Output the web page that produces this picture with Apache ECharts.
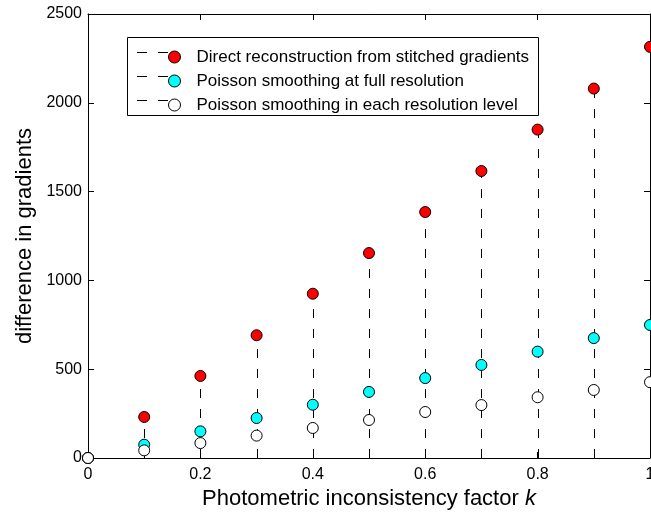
<!DOCTYPE html>
<html>
<head>
<meta charset="utf-8">
<script src="https://cdn.jsdelivr.net/npm/echarts@6/dist/echarts.min.js"></script>
<style>html,body{margin:0;padding:0;background:#fff}#c{width:651px;height:512px}</style>
</head>
<body>
<div id="c"></div>
<script>
const kValues = [0, 0.1, 0.2, 0.3, 0.4, 0.5, 0.6, 0.7, 0.8, 0.9, 1.0];
const directValues = [0, 231, 462, 691, 925, 1154, 1385, 1616, 1849, 2080, 2315];
const fullResValues = [0, 75, 150, 225, 300, 372, 450, 524, 599, 675, 749];
const levelValues = [0, 43, 84, 126, 169, 214, 259, 298, 342, 383, 427];
const seriesNames = [
  'Direct reconstruction from stitched gradients',
  'Poisson smoothing at full resolution',
  'Poisson smoothing in each resolution level'
];
const seriesColors = ['#ff0000', '#00ffff', '#ffffff'];
const xTicks = [0, 0.2, 0.4, 0.6, 0.8, 1];
const yTicks = [0, 500, 1000, 1500, 2000, 2500];

const FONT = '"Liberation Sans", Arial, Helvetica, sans-serif';
const chart = echarts.init(document.getElementById('c'), null, {renderer: 'canvas'});

function stemRender(color) {
  return function (params, api) {
    const x = api.value(0), y = api.value(1);
    const p0 = api.coord([x, 0]);
    const p1 = api.coord([x, y]);
    const px = Math.round(p0[0]) + 0.5;
    return {
      type: 'group',
      children: [
        {type: 'line', shape: {x1: px, y1: p0[1], x2: px, y2: p1[1]},
         style: {stroke: '#000', lineWidth: 1, lineDash: [9, 11]}},
        {type: 'circle', shape: {cx: p1[0], cy: p1[1], r: 5.5},
         style: {fill: color, stroke: '#000', lineWidth: 1}}
      ]
    };
  };
}

const seriesData = [directValues, fullResValues, levelValues];
const series = seriesData.map((vals, i) => ({
  name: seriesNames[i],
  type: 'custom',
  clip: false,
  itemStyle: {color: seriesColors[i], borderColor: '#000', borderWidth: 1},
  encode: {x: 0, y: 1},
  data: kValues.map((k, j) => [k, vals[j]]),
  renderItem: stemRender(seriesColors[i])
}));

const axisCommon = {
  axisLine: {show: true, onZero: false, lineStyle: {color: '#000', width: 1}},
  axisTick: {show: true, inside: true, length: 6, lineStyle: {color: '#000'}},
  splitLine: {show: false}
};

const legendRows = [52, 76, 100];
const graphics = [
  {type: 'rect', shape: {x: 127.5, y: 37.5, width: 411, height: 78},
   style: {fill: '#fff', stroke: '#000', lineWidth: 1}, z: 10}
];
legendRows.forEach(y => {
  graphics.push({type: 'line', shape: {x1: 137, y1: y + 0.5, x2: 170, y2: y + 0.5},
    style: {stroke: '#000', lineWidth: 1, lineDash: [10, 11]}, z: 11});
});

chart.setOption({
  animation: false,
  backgroundColor: '#fff',
  textStyle: {fontFamily: FONT},
  grid: {left: 88, right: 1, top: 14, bottom: 54, outerBoundsMode: 'none', containLabel: false},
  graphic: graphics,
  legend: {
    orient: 'vertical',
    left: 163,
    top: 40,
    itemWidth: 34,
    itemHeight: 12,
    itemGap: 0,
    icon: 'circle',
    z: 12,
    textStyle: {fontFamily: FONT, fontSize: 17, color: '#000', lineHeight: 24, height: 24},
    data: seriesNames.map((n, i) => ({
      name: n, icon: 'circle',
      itemStyle: {color: seriesColors[i], borderColor: '#000', borderWidth: 1}
    }))
  },
  xAxis: [
    Object.assign({}, axisCommon, {
      type: 'value', position: 'bottom', min: 0, max: 1, interval: 0.2,
      axisLabel: {show: true, color: '#000', fontSize: 16, fontFamily: FONT, margin: 9,
        formatter: v => String(Math.round(v * 10) / 10)},
      name: 'Photometric inconsistency factor {k|k}',
      nameLocation: 'middle', nameGap: 26,
      nameTextStyle: {color: '#000', fontSize: 22, fontFamily: FONT,
        rich: {k: {fontStyle: 'italic', fontSize: 22, fontFamily: FONT, color: '#000'}}}
    }),
    Object.assign({}, axisCommon, {
      type: 'value', position: 'top', min: 0, max: 1, interval: 0.2,
      axisLabel: {show: false}
    })
  ],
  yAxis: [
    Object.assign({}, axisCommon, {
      type: 'value', position: 'left', min: 0, max: 2500, interval: 500,
      axisLabel: {show: true, color: '#000', fontSize: 16, fontFamily: FONT, margin: 6,
        formatter: v => String(v)},
      name: 'difference in gradients',
      nameLocation: 'middle', nameGap: 50, nameRotate: 90,
      nameTextStyle: {color: '#000', fontSize: 22, fontFamily: FONT}
    }),
    Object.assign({}, axisCommon, {
      type: 'value', position: 'right', min: 0, max: 2500, interval: 500,
      axisLabel: {show: false}
    })
  ],
  series: series
});
</script>
</body>
</html>
